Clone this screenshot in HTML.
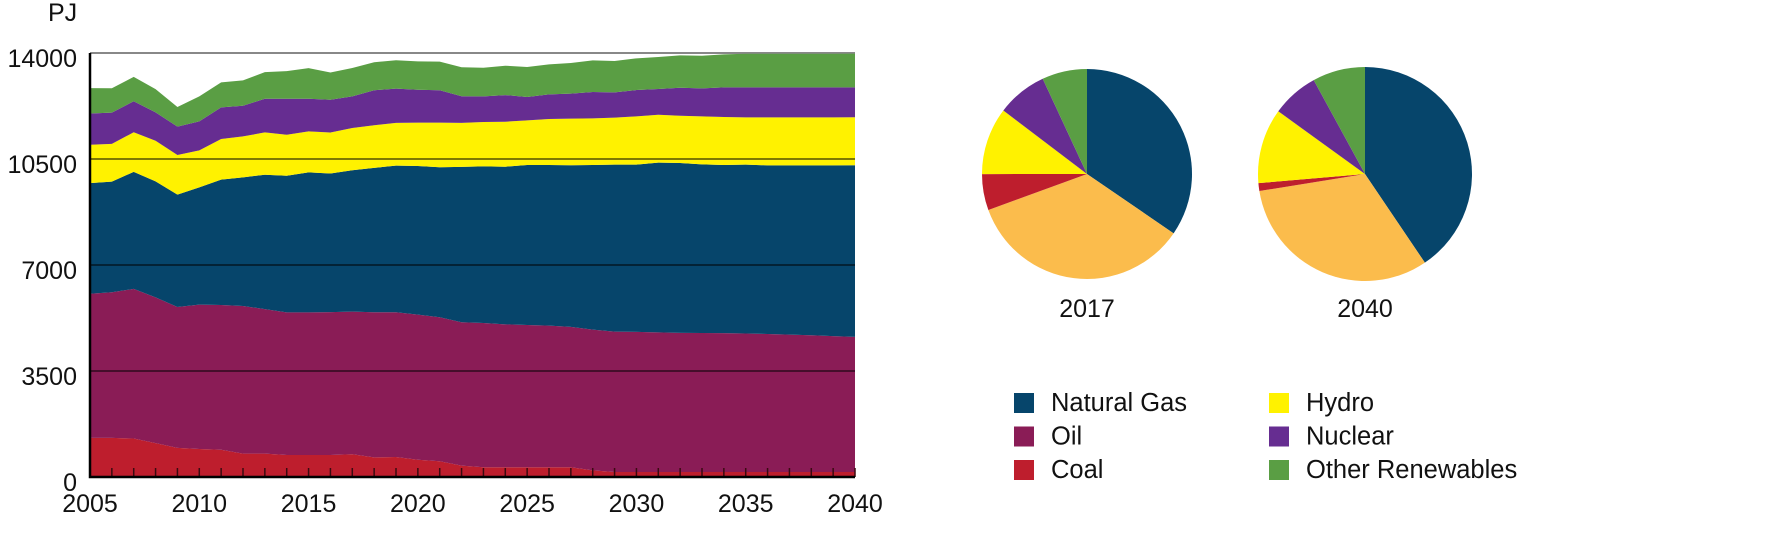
<!DOCTYPE html>
<html><head><meta charset="utf-8"><style>
body{margin:0;background:#fff;width:1780px;height:550px;overflow:hidden;font-family:"Liberation Sans",sans-serif;}
svg text{font-family:"Liberation Sans",sans-serif;fill:#111;}
</style></head><body>
<svg id="chart" width="1780" height="550"></svg>
<script>
const years=[];for(let y=2005;y<=2040;y++)years.push(y);
const coal=[1290,1290,1270,1120,960,925,900,770,770,725,725,725,750,650,660,570,520,375,320,320,320,320,320,220,165,165,165,165,165,165,165,165,165,165,165,165];
const oil=[4760,4810,4940,4810,4655,4765,4780,4875,4775,4710,4710,4720,4710,4790,4780,4790,4755,4735,4765,4720,4700,4680,4635,4645,4635,4625,4612,4595,4590,4585,4575,4555,4535,4515,4485,4460];
const gas=[3654,3654,3864,3830,3709,3874,4138,4248,4435,4512,4622,4578,4667,4766,4843,4910,4953,5128,5173,5206,5283,5302,5338,5437,5514,5523,5602,5608,5569,5552,5573,5571,5591,5611,5641,5668];
const hydro=[1266,1244,1309,1343,1310,1222,1343,1354,1398,1354,1354,1354,1397,1408,1408,1429,1474,1453,1463,1485,1474,1518,1540,1540,1551,1595,1584,1562,1584,1584,1562,1584,1584,1584,1584,1584];
const nuclear=[1034,1034,1023,935,935,957,1045,1012,1111,1188,1078,1078,1045,1155,1133,1089,1067,880,847,880,770,814,825,869,836,869,847,924,924,979,990,990,990,990,990,990];
const renew=[837,804,804,771,650,826,826,837,881,914,1013,903,936,925,936,936,947,958,947,969,991,991,1013,1046,1035,1046,1057,1068,1079,1090,1112,1112,1112,1112,1112,1112];
const yTicks=[0,3500,7000,10500,14000];
const xTicks=[2005,2010,2015,2020,2025,2030,2035,2040];
const pieYears=[2017,2040];

const NS="http://www.w3.org/2000/svg";
const svg=document.getElementById('chart');
function mk(tag,attrs,parent){const e=document.createElementNS(NS,tag);for(const k in attrs)e.setAttribute(k,attrs[k]);(parent||svg).appendChild(e);return e;}
const X0=90,X1=855,Y0=477,Y1=53,VMAX=14000;
const xs=y=>X0+(y-2005)*(X1-X0)/35;
const ys=v=>Y0-v*(Y0-Y1)/VMAX;

const series=[
 {name:'coal',vals:coal,col:'#be1e2d'},
 {name:'oil',vals:oil,col:'#8a1c56'},
 {name:'natural-gas',vals:gas,col:'#06456b'},
 {name:'hydro',vals:hydro,col:'#fff200'},
 {name:'nuclear',vals:nuclear,col:'#662d91'},
 {name:'other-renewables',vals:renew,col:'#5a9e44'}];

const tl=mk('line',{x1:X0,x2:X1,y1:Y1,y2:Y1,stroke:'#888','stroke-width':2});



let base=years.map(()=>0);
series.forEach(s=>{
  const top=base.map((b,i)=>b+s.vals[i]);
  let d='M'+years.map((y,i)=>xs(y)+','+ys(top[i])).join(' L');
  for(let i=years.length-1;i>=0;i--)d+=' L'+xs(years[i])+','+ys(base[i]);
  d+='Z';
  const p=mk('path',{d:d,fill:s.col});
  
  
  base=top;
});

yTicks.forEach(v=>{
  if(v>0&&v<VMAX){
    const g=mk('line',{x1:X0,x2:X1,y1:ys(v),y2:ys(v),stroke:'rgba(0,0,0,0.5)','stroke-width':2});
    
    
  }
  const t=mk('text',{x:77,y:ys(v)+14,'text-anchor':'end','font-size':25});
  t.textContent=v;
  
  
});
years.forEach(y=>{
  const t=mk('line',{x1:xs(y),x2:xs(y),y1:Y0,y2:Y0-9,stroke:'#3a0a10','stroke-width':1.5});
  
  
});
xTicks.forEach(y=>{
  const t=mk('text',{x:xs(y),y:512,'text-anchor':'middle','font-size':25});
  t.textContent=y;
  
  
});
const ax=mk('path',{d:`M${X0},${Y1} L${X0},${Y0} L${X1},${Y0}`,fill:'none',stroke:'#000','stroke-width':2.5});


const pj=mk('text',{x:48,y:21,'font-size':25});
pj.textContent='PJ';



const pieOrder=[
 {name:'natural-gas',vals:gas,col:'#06456b'},
 {name:'oil',vals:oil,col:'#fbbc4c'},
 {name:'coal',vals:coal,col:'#be1e2d'},
 {name:'hydro',vals:hydro,col:'#fff200'},
 {name:'nuclear',vals:nuclear,col:'#662d91'},
 {name:'other-renewables',vals:renew,col:'#5a9e44'}];
const pieCx=[1087,1365],pieR=[105,107],pieCy=174;
pieYears.forEach((yr,pi)=>{
  const idx=years.indexOf(yr);
  const tot=pieOrder.reduce((a,s)=>a+s.vals[idx],0);
  let a0=0;const cx=pieCx[pi],R=pieR[pi];
  pieOrder.forEach(s=>{
    const a1=a0+s.vals[idx]/tot*2*Math.PI;
    const p0=[cx+R*Math.sin(a0),pieCy-R*Math.cos(a0)],p1=[cx+R*Math.sin(a1),pieCy-R*Math.cos(a1)];
    const large=(a1-a0)>Math.PI?1:0;
    const p=mk('path',{d:`M${cx},${pieCy} L${p0[0]},${p0[1]} A${R},${R} 0 ${large} 1 ${p1[0]},${p1[1]} Z`,fill:s.col});
    
    
    a0=a1;
  });
  const t=mk('text',{x:cx,y:317,'text-anchor':'middle','font-size':25});
  t.textContent=yr;
  
  
});

const legend=[['Natural Gas','#06456b'],['Oil','#8a1c56'],['Coal','#be1e2d'],['Hydro','#fff200'],['Nuclear','#662d91'],['Other Renewables','#5a9e44']];
legend.forEach((l,i)=>{
  const col=Math.floor(i/3),row=i%3;
  const x=col?1269:1014,y=393+row*33.5;
  const r=mk('rect',{x:x,y:y,width:20,height:20,fill:l[1]});
  
  
  const t=mk('text',{x:x+37,y:y+18,'font-size':25.5});
  t.textContent=l[0];
  
  
});
</script>
</body></html>
